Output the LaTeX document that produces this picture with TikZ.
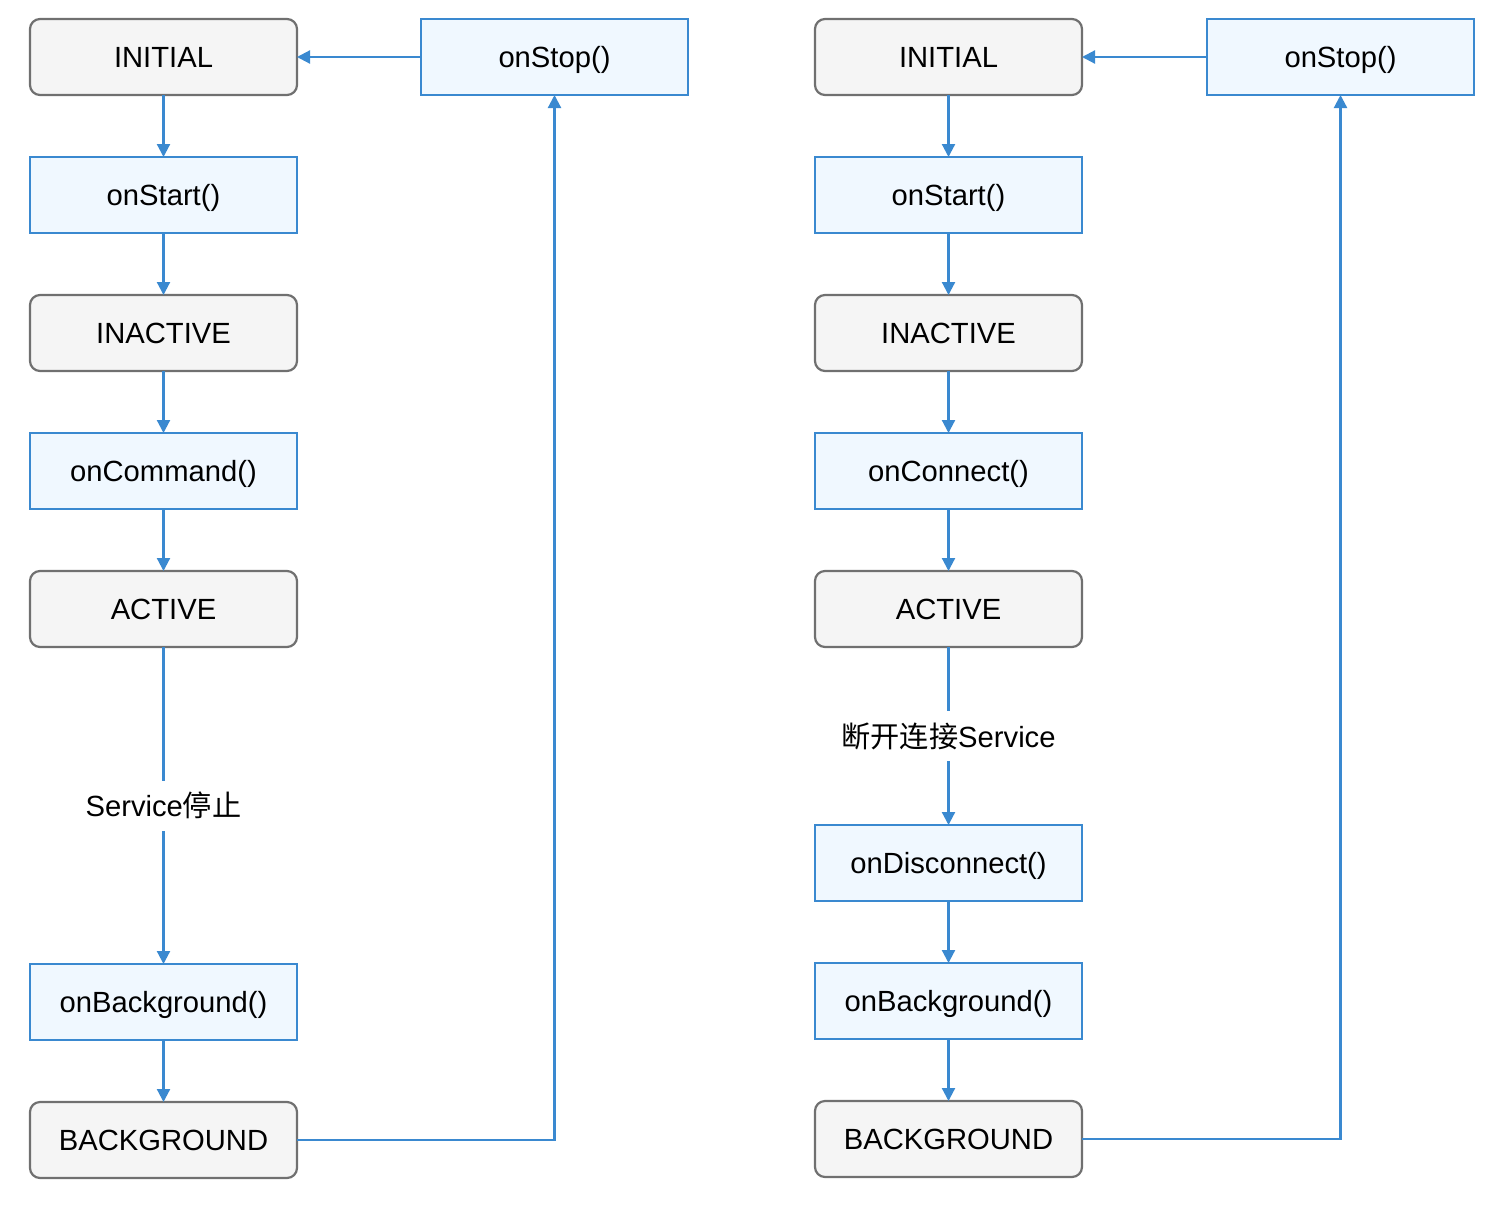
\documentclass[tikz,border=0pt]{standalone}
\usepackage{fontspec}
\setmainfont{Liberation Sans}
\newfontfamily\cjk{Noto Sans CJK SC}
\usetikzlibrary{positioning,arrows.meta}
\definecolor{lineblue}{HTML}{3A89D0}
\definecolor{boxblue}{HTML}{F0F8FF}
\definecolor{stategray}{HTML}{F5F5F5}
\definecolor{bordergray}{HTML}{707070}

\tikzset{
  state/.style={draw=bordergray, fill=stategray, rounded corners=5pt, line width=1.1pt,
    minimum width=133.5pt, minimum height=38pt, outer sep=0pt,
    text height=10.5pt, text depth=0pt, font=\fontsize{14.6}{17}\selectfont},
  callback/.style={draw=lineblue, fill=boxblue, line width=1.1pt,
    minimum width=133.5pt, minimum height=38pt, outer sep=0pt,
    text height=10.5pt, text depth=0pt, font=\fontsize{14.6}{17}\selectfont},
  flow/.style={draw=lineblue, line width=1.1pt, -{Triangle[length=6.5pt,width=6.5pt]}},
  note/.style={fill=white, font=\fontsize{14.6}{17}\selectfont, inner xsep=4pt, inner ysep=7pt,
    text height=11pt, text depth=0pt}
}

\begin{document}
\begin{tikzpicture}[x=0.5pt, y=-0.5pt, node distance=31pt]
\useasboundingbox (0,0) rectangle (1510,1206);
% left: service started by command
\node[state] (initA) at (163.5,57) {INITIAL};
\node[callback] (stopA) at (554.5,57) {onStop()};
\node[callback, below=of initA] (startA) {onStart()};
\node[state, below=of startA] (inactA) {INACTIVE};
\node[callback, below=of inactA] (cmdA) {onCommand()};
\node[state, below=of cmdA] (activeA) {ACTIVE};
\node[callback, below=158.5pt of activeA] (bgcbA) {onBackground()};
\node[state, below=of bgcbA] (bgA) {BACKGROUND};
\draw[flow] (initA) -- (startA);
\draw[flow] (startA) -- (inactA);
\draw[flow] (inactA) -- (cmdA);
\draw[flow] (cmdA) -- (activeA);
\draw[flow] (activeA) -- node[note] {Service{\cjk 停止}} (bgcbA);
\draw[flow] (bgcbA) -- (bgA);
\draw[flow] (bgA.east) -| (stopA.south);
\draw[flow] (stopA) -- (initA);

% right: service started by connect
\node[state] (initB) at (948.5,57) {INITIAL};
\node[callback] (stopB) at (1340.5,57) {onStop()};
\node[callback, below=of initB] (startB) {onStart()};
\node[state, below=of startB] (inactB) {INACTIVE};
\node[callback, below=of inactB] (connB) {onConnect()};
\node[state, below=of connB] (activeB) {ACTIVE};
\node[callback, below=89pt of activeB] (discB) {onDisconnect()};
\node[callback, below=of discB] (bgcbB) {onBackground()};
\node[state, below=of bgcbB] (bgB) {BACKGROUND};
\draw[flow] (initB) -- (startB);
\draw[flow] (startB) -- (inactB);
\draw[flow] (inactB) -- (connB);
\draw[flow] (connB) -- (activeB);
\draw[flow] (activeB) -- node[note] {{\cjk 断开连接}Service} (discB);
\draw[flow] (discB) -- (bgcbB);
\draw[flow] (bgcbB) -- (bgB);
\draw[flow] (bgB.east) -| (stopB.south);
\draw[flow] (stopB) -- (initB);
\end{tikzpicture}
\end{document}
